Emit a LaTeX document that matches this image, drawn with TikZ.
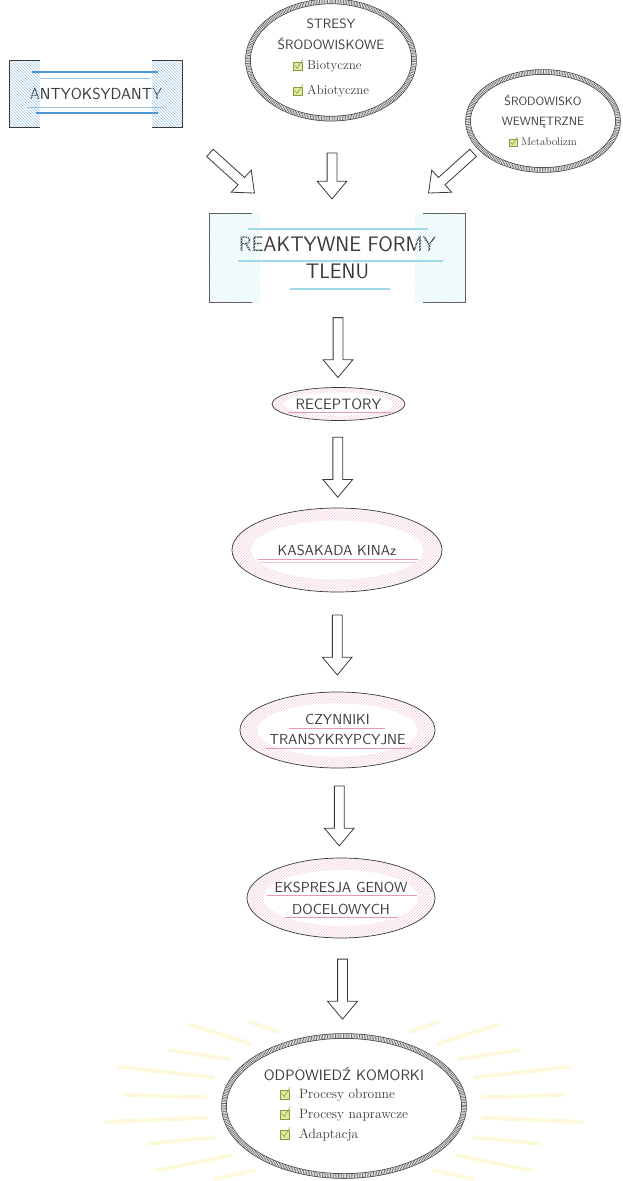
\documentclass[tikz,border=0pt]{standalone}
\usepackage{fontspec}
\usetikzlibrary{shapes,arrows,patterns,calc,positioning}

\definecolor{ink}{HTML}{3A3A3A}
\definecolor{antyblue}{HTML}{4F97D3}
\definecolor{cyanl}{HTML}{9FDBE6}
\definecolor{pinkl}{HTML}{E79AAE}
\definecolor{hatchpink}{HTML}{F2C9D2}
\definecolor{chkfill}{HTML}{DFE9A2}
\definecolor{chkedge}{HTML}{8C9C3C}
\definecolor{rayy}{HTML}{FCF9DC}

\newcommand{\hfont}[2]{\sffamily\fontsize{#1}{#2}\selectfont\addfontfeature{LetterSpace=5}}
\newcommand{\ifont}[2]{\rmfamily\fontsize{#1}{#2}\selectfont}
\newcommand{\chk}{\tikz[baseline=0pt,x=1em,y=1em]{\filldraw[fill=chkfill,draw=chkedge,line width=0.4pt] (0,-0.05) rectangle (0.7,0.62); \draw[chkedge,line width=0.5pt] (0.12,0.34)--(0.3,0.12)--(0.74,0.82);}}

\begin{document}
\begin{tikzpicture}[x=10pt,y=10pt]
\tikzstyle{every node}+=[text=ink]
\tikzstyle{rope}=[ellipse, inner sep=0pt, align=center,
  preaction={draw=ink, solid, line width=5.5pt},
  preaction={draw=white, solid, line width=4pt},
  draw=ink!75, line width=4pt, dash pattern=on 0.7pt off 0.9pt]
\tikzstyle{plain}=[ellipse, inner sep=0pt, align=center, draw=ink, line width=0.7pt,
  path picture={
    \fill[pattern=north east lines, pattern color=hatchpink] (path picture bounding box.south west) rectangle (path picture bounding box.north east);
    \fill[white] let \p1=(path picture bounding box.north east), \p2=(path picture bounding box.center),
      \n1={0.82*(\x1-\x2)}, \n2={0.7*(\y1-\y2)} in (\p2) ellipse [x radius=\n1, y radius=\n2];}]
\tikzstyle{blockarr}=[single arrow, draw=ink, line width=0.8pt, fill=white, inner xsep=0pt, inner ysep=4.5pt,
  single arrow head extend=10pt, single arrow tip angle=80]
\tikzstyle{pinkrule}=[draw=pinkl, line width=1pt]
\tikzstyle{ray}=[draw=rayy, line width=4pt, line cap=round]
\useasboundingbox (0,0) rectangle (62.3,-118.1);

% glow behind the answer
\coordinate (glow) at (34.4,-110.6);
\foreach \a/\r in {118/20,132/23,146/21,160/24,174/22,188/24,202/21,216/23,230/20}
  \draw[ray] ($(glow)+({14*cos(\a)},{8.4*sin(\a)})$) -- ($(glow)+({\r*cos(\a)},{(\r/2.1)*sin(\a)})$);
\foreach \a/\r in {-50/20,-36/23,-22/21,-8/24,6/22,20/24,34/21,48/23,62/20}
  \draw[ray] ($(glow)+({14*cos(\a)},{8.4*sin(\a)})$) -- ($(glow)+({\r*cos(\a)},{(\r/2.1)*sin(\a)})$);

% top row
\node[minimum width=172pt, minimum height=66pt, inner sep=0pt, font=\hfont{16}{19}] (anty) at (9.6,-9.4) {ANTYOKSYDANTY};
\fill[pattern=north west lines, pattern color=antyblue!55] (anty.north west) rectangle ($(anty.south west)+(3,0)$);
\fill[pattern=north west lines, pattern color=antyblue!55] ($(anty.north east)+(-3,0)$) rectangle (anty.south east);
\draw[ink, line width=0.8pt] ($(anty.north west)+(3,0)$) -- (anty.north west) -- (anty.south west) -- ++(3,0);
\draw[ink, line width=0.8pt] ($(anty.north east)+(-3,0)$) -- (anty.north east) -- (anty.south east) -- ++(-3,0);
\draw[antyblue, line width=1.6pt] ($(anty.center)+(-6.4,2.2)$) -- ++(12.6,0);
\draw[antyblue!60, line width=1pt] ($(anty.center)+(-5.6,1.6)$) -- ++(11,0);
\draw[antyblue!60, line width=1pt] ($(anty.center)+(-6.8,-1.3)$) -- ++(13.6,0);
\draw[antyblue, line width=1.6pt] ($(anty.center)+(-6,-1.9)$) -- ++(12.2,0);

\node[rope, minimum width=166pt, minimum height=114pt, font=\hfont{13.5}{21}] (stres) at (33.1,-6.0)
  {STRESY\\ŚRODOWISKOWE\\[4pt]
   \ifont{13}{22}\begin{tabular}{@{}l@{}}\chk\ Biotyczne\\[3pt]\chk\ Abiotyczne\end{tabular}};

\node[rope, minimum width=150pt, minimum height=98pt, font=\hfont{12}{20}] (wewn) at (54.3,-12.1)
  {ŚRODOWISKO\\WEWNĘTRZNE\\{\ifont{11}{12}\chk\ Metabolizm}};

\node[blockarr, minimum height=60pt, rotate=-42] (a1) at (23.0,-17.1) {};
\node[blockarr, minimum height=46pt, rotate=-90] (a2) at (33.2,-17.3) {};
\node[blockarr, minimum height=60pt, rotate=-138] (a3) at (45.3,-17.1) {};

% reactive oxygen species
\node[minimum width=255pt, minimum height=88pt, inner sep=0pt, align=center, font=\hfont{21}{27}] (ros) at (33.75,-25.8)
  {REAKTYWNE FORMY\\TLENU};
\fill[pattern=north east lines, pattern color=cyanl!45] (ros.north west) rectangle ($(ros.south west)+(5,0)$);
\fill[pattern=north east lines, pattern color=cyanl!45] ($(ros.north east)+(-5,0)$) rectangle (ros.south east);
\draw[ink!80, line width=1pt] ($(ros.north west)+(4.2,0)$) -- (ros.north west) -- (ros.south west) -- ++(4.2,0);
\draw[ink!80, line width=1pt] ($(ros.north east)+(-4.2,0)$) -- (ros.north east) -- (ros.south east) -- ++(-4.2,0);
\draw[cyanl, line width=1.6pt] ($(ros.center)+(-9,2.9)$) -- ++(18,0);
\draw[cyanl, line width=1.6pt] ($(ros.center)+(-10,-0.3)$) -- ++(20.5,0);
\draw[cyanl, line width=1.6pt] ($(ros.center)+(-4.8,-3.1)$) -- ++(10,0);

% signalling chain
\node[plain, minimum width=133pt, minimum height=33pt, font=\hfont{15}{16}] (rec) at (33.85,-40.4) {RECEPTORY};
\node[plain, minimum width=210pt, minimum height=84pt, font=\hfont{14.5}{18}] (kin) at (33.7,-55.0) {KASAKADA KINAz};
\node[plain, minimum width=195pt, minimum height=76pt, font=\hfont{14.5}{20}] (czyn) at (33.75,-73.0)
  {CZYNNIKI\\TRANSYKRYPCYJNE};
\node[plain, minimum width=188pt, minimum height=80pt, font=\hfont{14.5}{22}] (eksp) at (34.1,-89.8)
  {EKSPRESJA GENOW\\DOCELOWYCH};
\node[rope, minimum width=240pt, minimum height=140pt, font=\hfont{15}{19}] (odp) at (glow)
  {ODPOWIEDŹ KOMORKI\\[2pt]
   \ifont{13.5}{20}\begin{tabular}{@{}l@{}}\chk\ \ Procesy obronne\\\chk\ \ Procesy naprawcze\\\chk\ \ Adaptacja\end{tabular}};

\draw[pinkrule] ($(rec.center)+(-5.1,-0.85)$) -- ++(10.3,0);
\draw[pinkrule] ($(kin.center)+(-7.9,-0.95)$) -- ++(16,0);
\draw[pinkrule, draw=hatchpink] ($(kin.center)+(-7.7,-1.25)$) -- ++(15.6,0);
\draw[pinkrule] ($(czyn.center)+(-4.9,0.15)$) -- ++(9.6,0);
\draw[pinkrule] ($(czyn.center)+(-7.2,-1.85)$) -- ++(14.6,0);
\draw[pinkrule] ($(eksp.center)+(-7.4,0.25)$) -- ++(15,0);
\draw[pinkrule] ($(eksp.center)+(-5.6,-1.95)$) -- ++(11.2,0);

\node[blockarr, minimum height=60pt, rotate=-90] (a4) at ($(ros.south)!0.5!(rec.north)$) {};
\node[blockarr, minimum height=60pt, rotate=-90] (a5) at ($(rec.south)!0.5!(kin.north)$) {};
\node[blockarr, minimum height=60pt, rotate=-90] (a6) at ($(kin.south)!0.5!(czyn.north)$) {};
\node[blockarr, minimum height=60pt, rotate=-90] (a7) at ($(czyn.south)!0.5!(eksp.north)$) {};
\node[blockarr, minimum height=60pt, rotate=-90] (a8) at ($(eksp.south)!0.5!(odp.north)$) {};
\end{tikzpicture}
\end{document}
